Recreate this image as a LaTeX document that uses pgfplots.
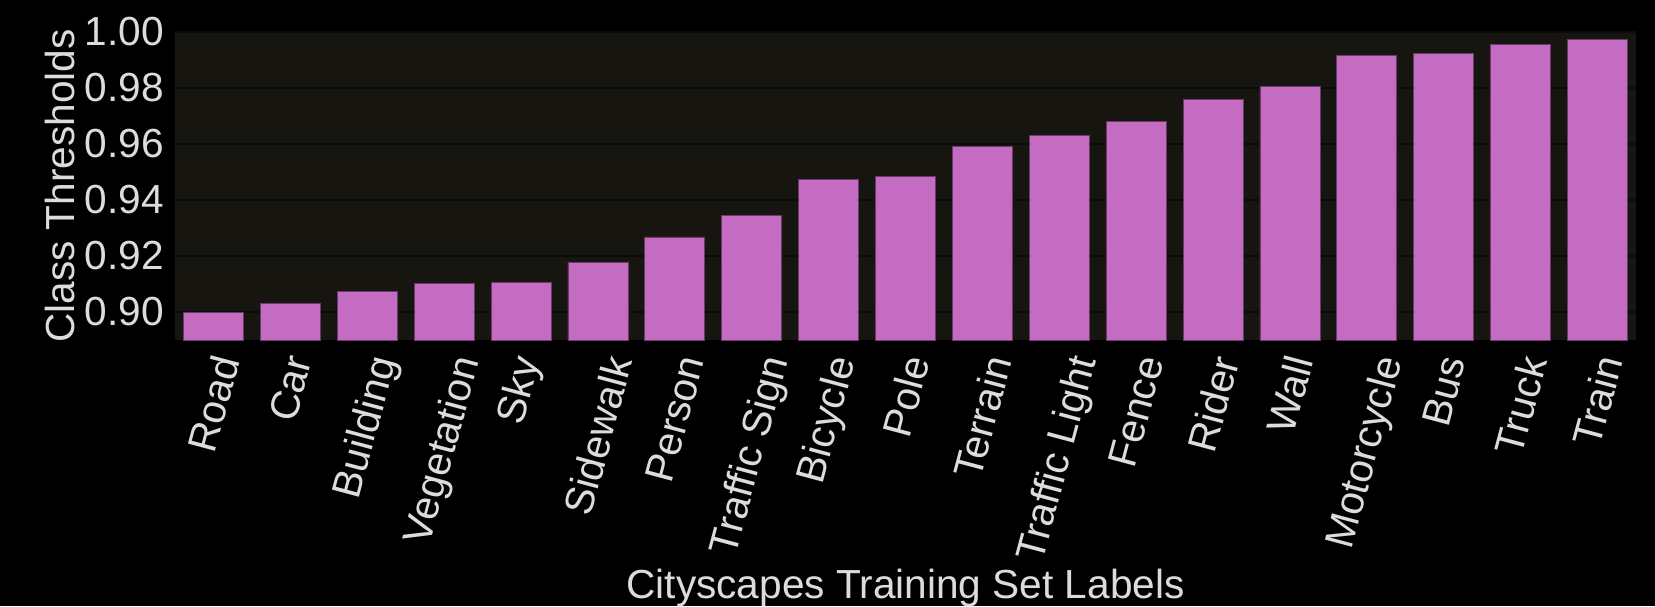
\documentclass[border=0pt]{standalone}
\usepackage{graphicx}
\usepackage{pgfplots}
\pgfplotsset{compat=1.18}
\usepackage{fontspec}
\setmainfont{Liberation Sans}
\definecolor{axbg}{HTML}{16150F}
\definecolor{gridc}{HTML}{0B0B09}
\definecolor{barc}{HTML}{C46CC2}
\definecolor{bare}{HTML}{6A3A68}
\definecolor{txt}{HTML}{DCDCDC}
\newcommand{\rl}[1]{\rotatebox{75}{#1}}
\begin{document}
\begin{tikzpicture}
\path[use as bounding box, fill=black] (-87.5pt,-133pt) rectangle (740pt,170pt);
\begin{axis}[
  at={(0,0)}, anchor=south west,
  scale only axis, width=730.5pt, height=154pt,
  xmin=-0.5, xmax=18.5, ymin=0.89, ymax=1.0,
  axis background/.style={fill=axbg},
  axis line style={draw=none},
  major tick length=0pt,
  ymajorgrids, grid style={gridc, line width=0.9pt},
  ytick={0.90,0.92,0.94,0.96,0.98,1.00},
  yticklabel style={/pgf/number format/fixed, /pgf/number format/zerofill, /pgf/number format/precision=2, anchor=east, inner sep=0pt, xshift=-5.5pt},
  /pgf/number format/assume math mode=true,
  tick label style={font=\fontsize{20.3pt}{24pt}\selectfont, text=txt},
  xtick={0,...,18},
  xticklabels={\rl{Road},\rl{Car},\rl{Building},\rl{Vegetation},\rl{Sky},\rl{Sidewalk},\rl{Person},\rl{Traffic Sign},\rl{Bicycle},\rl{Pole},\rl{Terrain},\rl{Traffic Light},\rl{Fence},\rl{Rider},\rl{Wall},\rl{Motorcycle},\rl{Bus},\rl{Truck},\rl{Train}},
  xticklabel style={anchor=north, inner sep=0pt, yshift=-6.5pt},
]
\addplot[ybar, bar width=0.78, bar shift=0pt, fill=barc, draw=bare, line width=0.4pt] coordinates {
(0,0.8997) (1,0.9030) (2,0.9075) (3,0.9102) (4,0.9105) (5,0.9178) (6,0.9268) (7,0.9346) (8,0.9472) (9,0.9484)
(10,0.9590) (11,0.9630) (12,0.9682) (13,0.9760) (14,0.9806) (15,0.9917) (16,0.9922) (17,0.9957) (18,0.9975)
};
\end{axis}
\node[anchor=base, text=txt, font=\fontsize{20.3pt}{24pt}\selectfont, inner sep=0pt] at (365.25pt,-129pt) {Cityscapes Training Set Labels};
\node[anchor=center, rotate=90, text=txt, font=\fontsize{20.3pt}{24pt}\selectfont, inner sep=0pt] at (-57.5pt,77pt) {Class Thresholds};
\end{tikzpicture}
\end{document}
